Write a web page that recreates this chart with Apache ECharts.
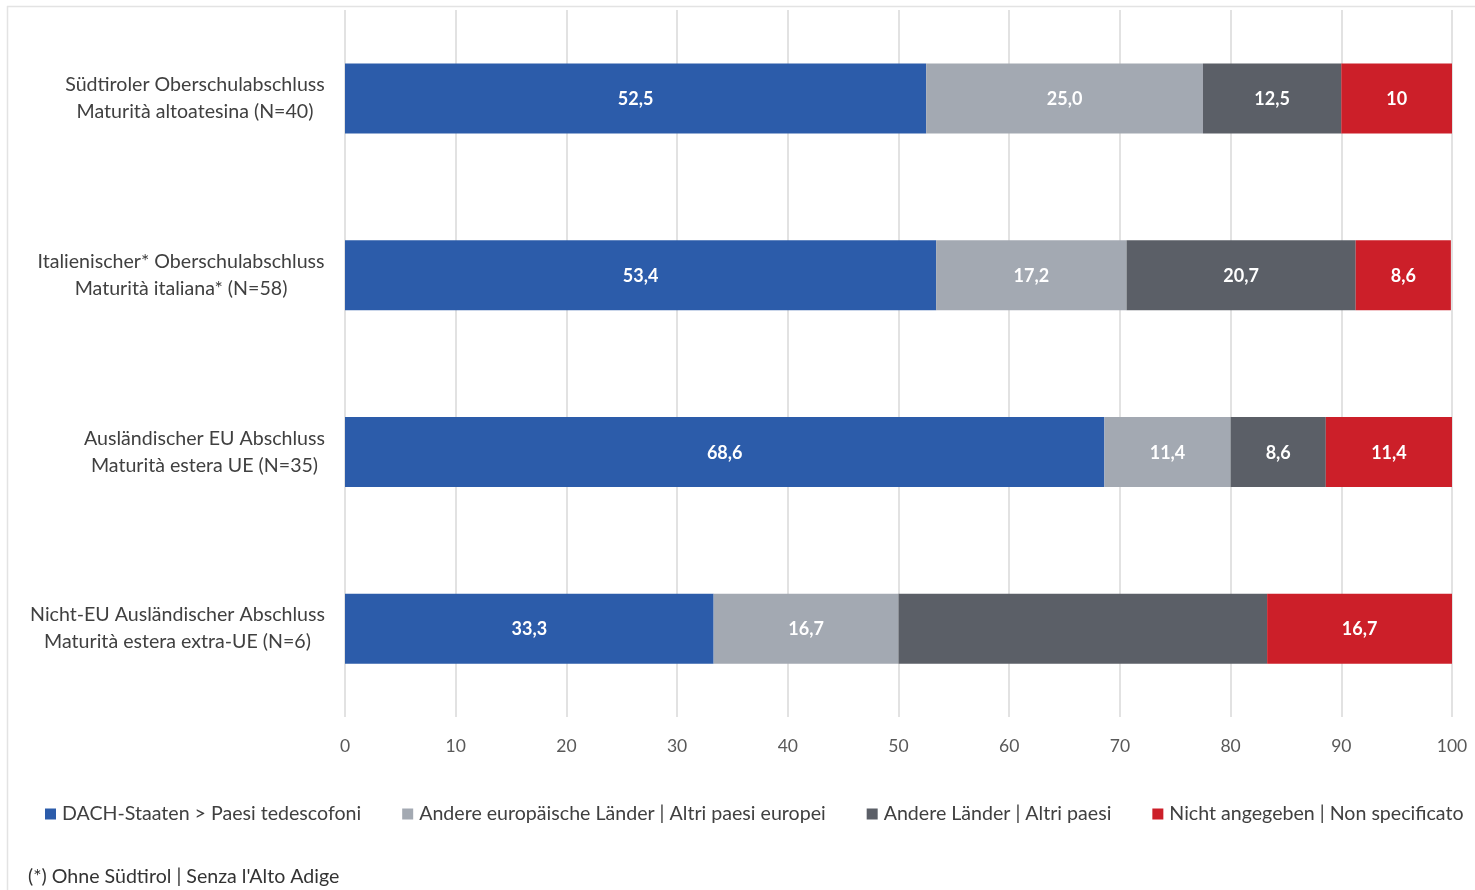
<!DOCTYPE html>
<html>
<head>
<meta charset="utf-8">
<script src="https://cdn.jsdelivr.net/npm/echarts@6/dist/echarts.min.js"></script>
<style>html,body{margin:0;padding:0;background:#fff}#c{width:1475px;height:890px}</style>
</head>
<body>
<div id="c"></div>
<script>
const categories = [
  ['Südtiroler Oberschulabschluss', 'Maturità altoatesina (N=40)'],
  ['Italienischer* Oberschulabschluss', 'Maturità italiana* (N=58)'],
  ['Ausländischer EU Abschluss', 'Maturità estera UE (N=35)'],
  ['Nicht-EU Ausländischer Abschluss', 'Maturità estera extra-UE (N=6)']
];
const seriesNames = ['DACH-Staaten > Paesi tedescofoni', 'Andere europäische Länder | Altri paesi europei', 'Andere Länder | Altri paesi', 'Nicht angegeben | Non specificato'];
const dach = [52.5, 53.4, 68.6, 33.3];
const europe = [25.0, 17.2, 11.4, 16.7];
const other = [12.5, 20.7, 8.6, 33.3];
const notGiven = [10, 8.6, 11.4, 16.7];
const dachLabels = ['52,5', '53,4', '68,6', '33,3'];
const europeLabels = ['25,0', '17,2', '11,4', '16,7'];
const otherLabels = ['12,5', '20,7', '8,6', ''];
const notGivenLabels = ['10', '8,6', '11,4', '16,7'];
const xTicks = [0, 10, 20, 30, 40, 50, 60, 70, 80, 90, 100];
const footnote = "(*) Ohne Südtirol | Senza l'Alto Adige";

const FONT = 'Lato';
const TXT = 19.6;
const colors = ['#2C5CAA', '#A3A9B2', '#5B5F67', '#CC1F29'];

// measure label widths to center lines within each right-aligned block
const cv = document.createElement('canvas').getContext('2d');
cv.font = TXT + 'px ' + FONT;
const rich = {};
categories.forEach((c, i) => {
  const w = Math.ceil(Math.max(...c.map(t => cv.measureText(t).width)));
  rich['c' + i] = { width: w, align: 'center', fontSize: TXT, fontFamily: FONT, color: '#404040', lineHeight: 27 };
});
const catKeys = categories.map((c, i) => String(i));

const chart = echarts.init(document.getElementById('c'), null, { renderer: 'canvas' });
function mk(name, vals, labels, color) {
  return {
    name, type: 'bar', stack: 'total', barWidth: 70,
    itemStyle: { color },
    label: {
      show: true, position: 'inside', color: '#fff', fontFamily: FONT, fontWeight: 'bold', fontSize: 18,
      offset: [0, 1],
      formatter: p => labels[p.dataIndex]
    },
    data: vals.map(v => v),
    emphasis: { disabled: true }
  };
}
chart.setOption({
  animation: false,
  color: colors,
  textStyle: { fontFamily: FONT },
  grid: { left: 345, right: 23, top: 10, bottom: 173, containLabel: false },
  legend: {
    left: 40, top: 799, itemWidth: 11, itemHeight: 11, itemGap: 41, icon: 'rect',
    textStyle: { fontSize: TXT, color: '#404040', fontFamily: FONT, padding: [0, 0, 0, 1] },
    data: seriesNames
  },
  xAxis: {
    type: 'value', min: 0, max: 100, interval: 10,
    axisLine: { show: false }, axisTick: { show: false },
    splitLine: { lineStyle: { color: '#D9D9D9', width: 1.5 } },
    axisLabel: { fontSize: 17.5, color: '#595959', fontFamily: FONT, margin: 20, formatter: v => xTicks.includes(v) ? String(v) : '' }
  },
  yAxis: {
    type: 'category', inverse: true, data: catKeys,
    axisLine: { show: false }, axisTick: { show: false },
    axisLabel: {
      margin: 20,
      formatter: v => categories[+v].map(t => '{c' + v + '|' + t + '}').join('\n'),
      rich
    }
  },
  series: [
    mk(seriesNames[0], dach, dachLabels, colors[0]),
    mk(seriesNames[1], europe, europeLabels, colors[1]),
    mk(seriesNames[2], other, otherLabels, colors[2]),
    mk(seriesNames[3], notGiven, notGivenLabels, colors[3])
  ],
  graphic: [
    { type: 'line', shape: { x1: 7.5, y1: 6, x2: 7.5, y2: 890 }, style: { stroke: '#E3E3E3', lineWidth: 1.5 } },
    { type: 'line', shape: { x1: 7, y1: 6.5, x2: 1475, y2: 6.5 }, style: { stroke: '#E3E3E3', lineWidth: 1.5 } },
    { type: 'text', left: 28, top: 867, style: { text: footnote, fontSize: TXT, fill: '#333333', fontFamily: FONT } }
  ]
});
</script>
</body>
</html>
